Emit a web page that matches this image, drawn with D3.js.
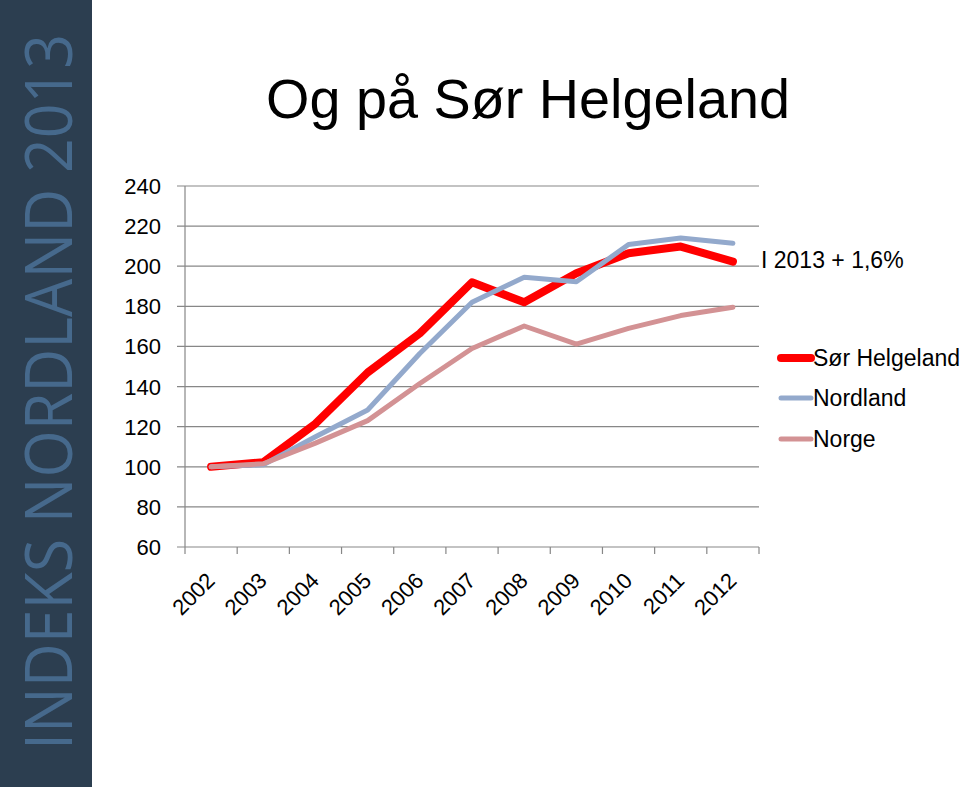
<!DOCTYPE html>
<html><head><meta charset="utf-8">
<script src="https://cdn.jsdelivr.net/npm/d3@7"></script>
<style>body{margin:0;background:#fff}svg{display:block}</style>
</head><body>
<svg id="c" width="960" height="787"></svg>
<script>
const years = ["2002","2003","2004","2005","2006","2007","2008","2009","2010","2011","2012"];
const sorHelgeland = [100,102.3,121.5,147,166.5,192,182,196.5,206.5,209.8,202.3];
const nordland = [100,101,115,128.3,156.5,182,194.5,192.3,210.8,214.1,211.5];
const norge = [100,101.5,111.8,123,141.5,159,170.2,161.2,169,175.4,179.5];
const yTicks = [60,80,100,120,140,160,180,200,220,240];
const seriesNames = ["Sør Helgeland","Nordland","Norge"];
const colors = ["#ff0000","#93a9cc","#d39294"];
const widths = [8,5,5];
const title = "Og på Sør Helgeland";
const note = "I 2013 + 1,6%";
const banner = "INDEKS NORDLAND 2013";

const svg = d3.select("#c");
const font = "'Liberation Sans', Arial, sans-serif";

// banner
svg.append("rect").attr("x",0).attr("y",0).attr("width",92).attr("height",787).attr("fill","#2c3e50");
svg.append("text").attr("transform","translate(72,750) rotate(-90)")
  .attr("font-family","'Open Sans', sans-serif").attr("font-weight",400).attr("font-size",66)
  .attr("fill","#46698c").attr("textLength",716).attr("lengthAdjust","spacingAndGlyphs").text(banner);

// title
svg.append("text").attr("x",266).attr("y",118).attr("font-family",font).attr("font-size",55)
  .attr("fill","#000").attr("textLength",524).attr("lengthAdjust","spacingAndGlyphs").text(title);

const x = d3.scaleBand().domain(years).range([185,759]);
const y = d3.scaleLinear().domain([60,240]).range([547,186]);
const cx = d => x(d) + x.bandwidth()/2;

// gridlines
svg.append("g").selectAll("line").data(yTicks).join("line")
  .attr("x1",177).attr("x2",759).attr("y1",d=>y(d)).attr("y2",d=>y(d))
  .attr("stroke","#878787").attr("stroke-width",1.2);
// y axis line
svg.append("line").attr("x1",185).attr("x2",185).attr("y1",y(240)).attr("y2",y(60)).attr("stroke","#878787").attr("stroke-width",1.2);
// y labels
svg.append("g").selectAll("text").data(yTicks).join("text")
  .attr("x",161).attr("y",d=>y(d)+8).attr("text-anchor","end")
  .attr("font-family",font).attr("font-size",22).attr("fill","#000").text(d=>d);
// x ticks
const edges = years.map(d=>x(d)).concat([x(years[years.length-1])+x.bandwidth()]);
svg.append("g").selectAll("line").data(edges).join("line")
  .attr("x1",d=>d).attr("x2",d=>d).attr("y1",547).attr("y2",554)
  .attr("stroke","#878787").attr("stroke-width",1.2);
// x labels
svg.append("g").selectAll("text").data(years).join("text")
  .attr("transform",d=>`translate(${cx(d)+5},${582}) rotate(-45)`)
  .attr("text-anchor","end").attr("font-family",font).attr("font-size",22).attr("fill","#000").text(d=>d);

// lines
const allSeries = [sorHelgeland, nordland, norge];
const line = d3.line().x((d,i)=>cx(years[i])).y(d=>y(d));
allSeries.forEach((s,k)=>{
  svg.append("path").attr("d",line(s)).attr("fill","none").attr("stroke",colors[k])
    .attr("stroke-width",widths[k]).attr("stroke-linejoin","round").attr("stroke-linecap","round");
});

// note
svg.append("text").attr("x",761).attr("y",268).attr("font-family",font).attr("font-size",23).attr("fill","#000").text(note);

// legend
const legY = [358,398,439];
seriesNames.forEach((n,k)=>{
  svg.append("line").attr("x1",781).attr("x2",811).attr("y1",legY[k]).attr("y2",legY[k])
    .attr("stroke",colors[k]).attr("stroke-width",widths[k]).attr("stroke-linecap","round");
  svg.append("text").attr("x",813).attr("y",legY[k]+8).attr("font-family",font).attr("font-size",23).attr("fill","#000").text(n);
});
</script>
</body></html>
